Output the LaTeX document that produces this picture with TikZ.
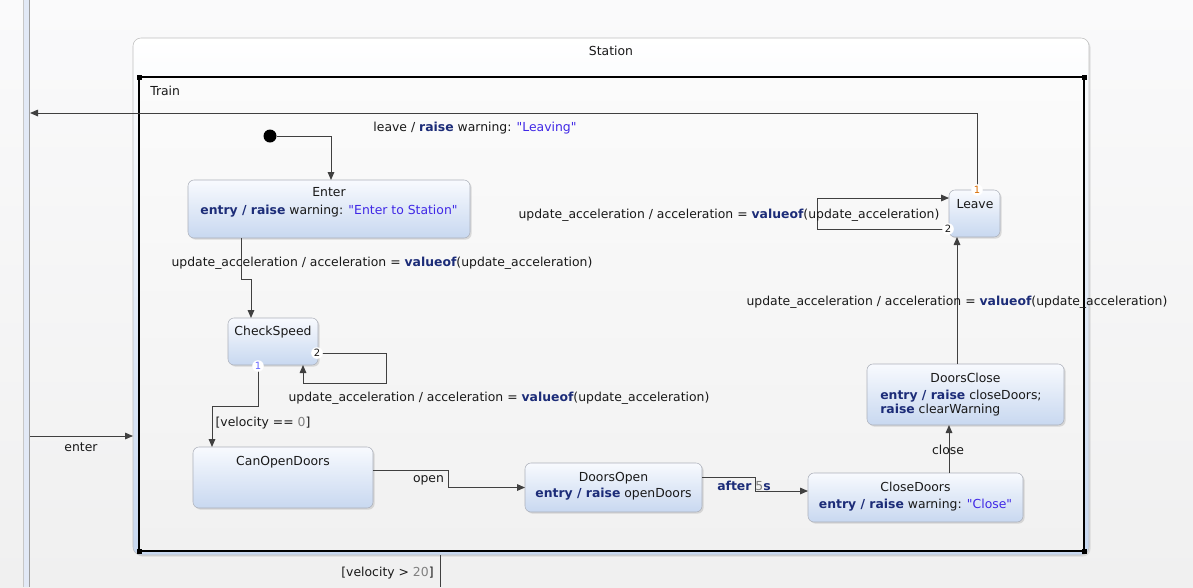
\documentclass[tikz,border=0pt]{standalone}
\usepackage{fontspec}
\setmainfont{DejaVu Sans}
\usepackage{tikz}
\usepackage{xcolor}
\usetikzlibrary{arrows.meta,shadows,calc}

\definecolor{kw}{RGB}{28,44,120}
\definecolor{strc}{RGB}{64,40,230}
\definecolor{numc}{RGB}{128,128,128}
\definecolor{txt}{RGB}{25,25,25}
\definecolor{trc}{RGB}{64,64,64}
\definecolor{stTop}{RGB}{248,250,254}
\definecolor{stBot}{RGB}{200,216,240}
\definecolor{stLine}{RGB}{172,176,186}
\definecolor{bgTop}{RGB}{250,250,251}
\definecolor{bgBot}{RGB}{240,240,240}
\definecolor{rTop}{RGB}{251,251,251}
\definecolor{rBot}{RGB}{241,241,241}
\definecolor{barc}{RGB}{226,233,246}

\newcommand\kwd[1]{\textcolor{kw}{\bfseries #1}}
\newcommand\strg[1]{\textcolor{strc}{\textquotedbl#1\textquotedbl}}
\newcommand\numb[1]{\textcolor{numc}{#1}}
\newcommand\upd{update\_acceleration / acceleration = \kwd{valueof}(update\_acceleration)}

\begin{document}
\begin{tikzpicture}[x=0.75pt,y=-0.75pt,
  font=\fontsize{9.3}{12}\selectfont, text=txt,
  sz/.style 2 args={minimum width=#1*0.75pt,minimum height=#2*0.75pt},
  state/.style={rectangle,rounded corners=4.5pt,draw=stLine,top color=stTop,bottom color=stBot,
    outer sep=0pt,inner sep=0pt,drop shadow={shadow xshift=1.2pt,shadow yshift=-1.2pt,opacity=.25}},
  lbl/.style={anchor=mid,inner sep=0pt},
  trans/.style={draw=trc,line width=0.75pt},
  arr/.style={trans,-{Triangle[length=6pt,width=5pt]}},
  prio/.style={circle,fill=white,inner sep=0.5pt,font=\fontsize{7.5}{8}\selectfont}]

\shade[top color=bgTop,bottom color=bgBot] (0,0) rectangle (1193,587);
\useasboundingbox (0,0) rectangle (1193,587);

% parent state edge
\fill[barc] (23,0) rectangle (30,587);
\draw[black!22] (23.5,0) -- (23.5,587);
\draw[black!38] (29.5,0) -- (29.5,587);

% Station and Train
\node[rectangle,rounded corners=6pt,draw=black!25,top color=white,bottom color=stBot,outer sep=0pt,
  drop shadow={shadow xshift=1.2pt,shadow yshift=-1.2pt,opacity=.2},sz={956}{517}] (station) at (611,296.5) {};
\node[lbl] (stationT) at (611,52) {Station};
\node[rectangle,draw=black,line width=1.1pt,top color=rTop,bottom color=rBot,outer sep=0pt,sz={945}{474}] (train) at (611.5,314) {};
\foreach \c in {north west,north east,south west,south east}
\fill [black] (train.\c) +(-2.5,-2.5) rectangle +(2.5,2.5);
\node[lbl,anchor=mid west] (trainT) at (150,91.5) {Train};

\node[circle,fill=black,minimum size=9.75pt,inner sep=0pt] (init) at (270,136) {};

\node[state,sz={282}{58}] (enter) at (329,209) {};
\node[state,sz={90}{47}] (check) at (273,341.5) {};
\node[state,sz={180}{61}] (canopen) at (283,477.5) {};
\node[state,sz={177}{49}] (dopen) at (613.5,487.5) {};
\node[state,sz={215}{49}] (cdoors) at (915.5,497.5) {};
\node[state,sz={197}{61}] (dclose) at (965.5,394.5) {};
\node[state,sz={51}{47}] (leave) at (974.5,213.5) {};

\node[lbl] (enterT) at (329,193) {Enter};
\node[lbl] (enterB) at (329,210.5) {\kwd{entry / raise} warning: \strg{Enter to Station}};
\node[lbl] (checkT) at (273,332) {CheckSpeed};
\node[lbl] (canopenT) at (283,462) {CanOpenDoors};
\node[lbl] (dopenT) at (613.5,478) {DoorsOpen};
\node[lbl] (dopenB) at (613.5,494) {\kwd{entry / raise} openDoors};
\node[lbl] (cdoorsT) at (915.5,488) {CloseDoors};
\node[lbl] (cdoorsB) at (915.5,504.5) {\kwd{entry / raise} warning: \strg{Close}};
\node[lbl] (dcloseT) at (965.5,379) {DoorsClose};
\node[lbl,anchor=mid west] (dcloseB1) at (880,395.5) {\kwd{entry / raise} closeDoors;};
\node[lbl,anchor=mid west] (dcloseB2) at (880,409.5) {\kwd{raise} clearWarning};
\node[lbl] (leaveT) at (975,204.5) {Leave};

% transitions
\coordinate (exitpt) at (30,113);
\coordinate (entpt) at (30,436);
\coordinate (botpt) at (440,587);
\coordinate (cl) at ($(cdoors.north west)+(141,0)$);
\coordinate (up) at ($(dclose.north west)+(90,0)$);
\draw[arr] (init) -| ($(enter.north west)+(143,0)$);
\draw[arr] ($(enter.south west)+(53,0)$) -- ++(0,41) -| ($(check.north west)+(23,0)$);
\draw[arr] ($(check.south east)+(0,-12)$) -- ++(68,0) -- ++(0,30) -| ($(check.south west)+(75,0)$);
\draw[arr] ($(check.south west)+(30,0)$) -- ++(0,41) -| ($(canopen.north west)+(19,0)$);
\draw[arr] ($(canopen.north east)+(0,23)$) -- ++(75,0) |- (dopen.west);
\draw[arr] ($(dopen.north east)+(0,14)$) -- ++(53,0) |- ($(cdoors.north west)+(0,18)$);
\draw[arr] (cl) -- (cl |- dclose.south);
\draw[arr] (up) -- (up |- leave.south);
\draw[arr] ($(leave.south west)+(0,-8)$) -- ++(-132,0) |- ($(leave.north west)+(0,8)$);
\draw[arr] ($(leave.north west)+(28,0)$) |- (exitpt);
\draw[arr] (entpt) -- (entpt -| station.west);
\draw[trans] (botpt |- station.south) -- (botpt);

\node[prio,text=orange!85!black] (leaveP1) at (977,190) {1};
\node[prio] (leaveP2) at (948,229) {2};
\node[prio] (checkP2) at (317,353) {2};
\node[prio,text=blue!60] (checkP1) at (258,366) {1};

\node[lbl] (leaveL) at (475,128) {leave / \kwd{raise} warning: \strg{Leaving}};
\node[lbl] (updL1) at (382,262.5) {\upd};
\node[lbl] (updL2) at (499,397.5) {\upd};
\node[lbl] (updL3) at (729,215) {\upd};
\node[lbl] (updL4) at (957,302) {\upd};
\node[lbl] (velL1) at (263,422.5) {[velocity == \numb{0}]};
\node[lbl] (velL2) at (387.5,573) {[velocity > \numb{20}]};
\node[lbl] (enterL) at (81,448) {enter};
\node[lbl] (openL) at (428.5,478.5) {open};
\node[lbl] (afterL) at (744,486.5) {\kwd{after} \numb{5}\kwd{s}};
\node[lbl] (closeL) at (948,451) {close};
\end{tikzpicture}
\end{document}
